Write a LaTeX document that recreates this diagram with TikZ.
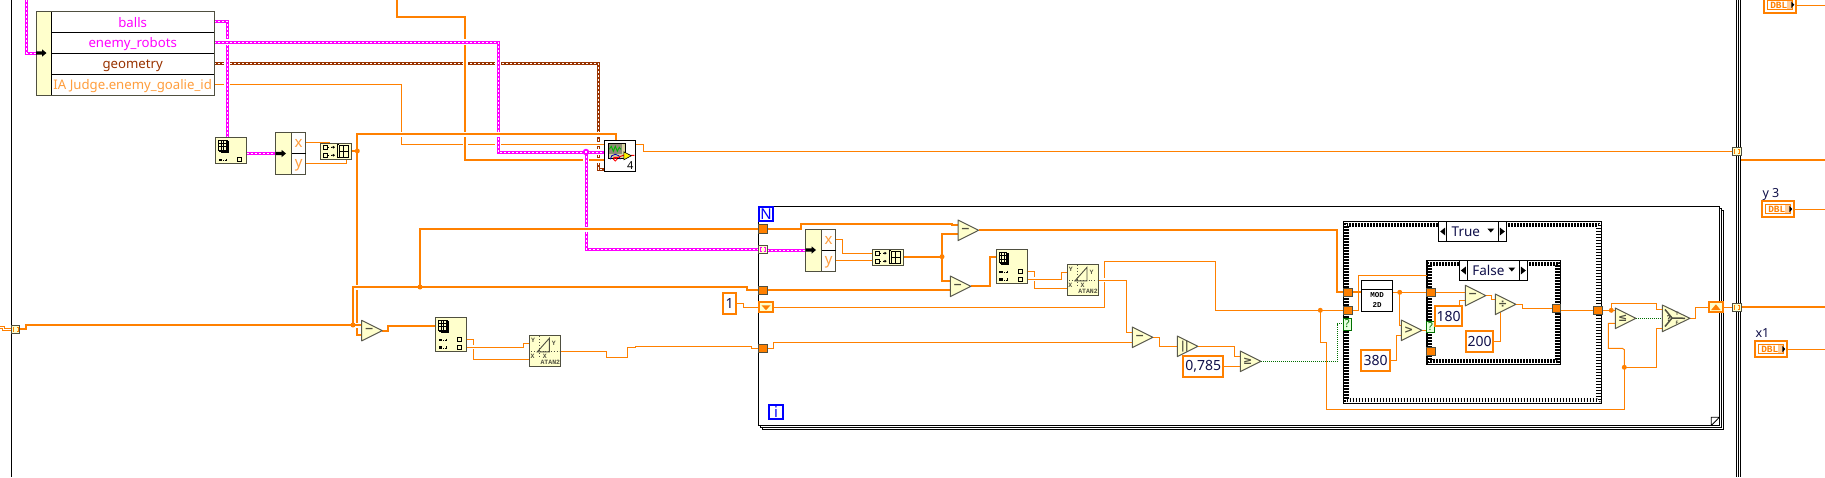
\documentclass[tikz,border=0pt]{standalone}
\usepackage{fontspec}
\setmainfont{Noto Sans}
\setmonofont{Liberation Mono}
\newfontfamily\symf{DejaVu Sans}
\pgfdeclarelayer{frames}
\pgfdeclarelayer{wires}
\pgfsetlayers{frames,wires,main}
\definecolor{org}{HTML}{FF8000}
\definecolor{lorg}{HTML}{FF9E3D}
\definecolor{mag}{HTML}{FF00FF}
\definecolor{brn}{HTML}{993300}
\definecolor{dk}{HTML}{4F4F40}
\definecolor{yel}{HTML}{FFFFCC}
\definecolor{navy}{HTML}{10104A}
\definecolor{grn}{HTML}{007000}
\tikzset{
  every node/.style={inner sep=0pt,outer sep=0pt},
  thinw/.style={draw=org,line width=1pt},
  thinh/.style={thinw,preaction={draw=white,line width=4pt}},
  thick2/.style={draw=org,line width=2pt},
  thickh/.style={thick2,preaction={draw=white,line width=5pt}},
  clus/.style={draw=mag,line width=3pt,postaction={draw=white,line width=1pt,dash pattern=on 2pt off 2pt}},
  clush/.style={clus,preaction={draw=white,line width=6.4pt}},
  clusb/.style={draw=brn,line width=3pt,postaction={draw=white,line width=1pt,dash pattern=on 2pt off 2pt}},
  boolw/.style={draw=grn,line width=1pt,dash pattern=on 1pt off 1pt},
  ybox/.style={draw=dk,fill=yel,line width=1pt},
  wbox/.style={draw=black,fill=white,line width=1pt},
  tun/.style={draw=dk,fill=org,line width=1pt},
  atun/.style={draw=dk,fill=yel,line width=1pt},
  qbox/.style={draw=grn,fill=yel!60!green!25,line width=1pt,text=grn,font=\fontsize{11}{11}\selectfont\bfseries},
  const/.style={draw=org,fill=white,line width=2pt,text=navy,font=\fontsize{14}{16}\selectfont},
  itbox/.style={draw=blue,fill=white,line width=2pt,text=blue,font=\fontsize{15}{15}\selectfont\bfseries},
  shreg/.style={draw=org,fill=yel,line width=2pt},
  trib/.style={draw=dk!80!gray,fill=yel,line width=1pt,line join=round},
  trisym/.style={text=dk,font=\symf\fontsize{11}{11}\selectfont\bfseries},
  lbl/.style={font=\fontsize{13.2}{15}\selectfont},
  xylbl/.style={font=\fontsize{15}{15}\selectfont,text=lorg},
  tiny/.style={font=\ttfamily\fontsize{6.5}{7}\selectfont\bfseries,text=dk},
  seltxt/.style={font=\fontsize{13.5}{15}\selectfont,text=navy},
  wlabel/.style={font=\fontsize{12.5}{14}\selectfont,text=navy,anchor=west},
  outerfr/.style={draw=black,line width=1.5pt},
  checker/.style={draw=black,line width=1.5pt,dash pattern=on 1.5pt off 1.5pt},
}
% \bx[style]{name}{x1}{y1}{x2}{y2}{text}
\newcommand{\bx}[7][]{\node[#1,rectangle,minimum width={(#5-#3)*1pt},minimum height={(#6-#4)*1pt}] (#2) at ({(#3+#5)/2},{(#4+#6)/2}) {#7};}
% \trinode{name}{x}{y}{symbol}
\newcommand{\trinode}[4]{%
  \draw[trib] (#2,#3) -- ++(20.5,10.3) -- ++(-20.5,10.3) -- cycle;
  \node[trisym] (#1) at (#2+7.5,#3+10.3) {#4};
  \coordinate (#1-l) at (#2,#3+10.3);
  \coordinate (#1-o) at (#2+20.5,#3+10.3);}
\newcommand{\ubarrow}[2]{\fill[black] (#1,#2-1.7) -- ++(6,0) -- ++(0,-2) -- ++(4.5,3.7) -- ++(-4.5,3.7) -- ++(0,-2) -- ++(-6,0) -- cycle;}
% grid icon
\newcommand{\gridicon}[3]{\begin{scope}[shift={(#1,#2)},line width=.8pt,black]
  \ifnum#3>0 \draw[fill=yel] (2.5,1.5) rectangle (9.5,12);\draw[fill=yel] (1.2,.7) rectangle (8.5,11);\fi
  \draw[fill=yel] (0,0) rectangle (7.5,10);
  \draw (2.5,0)--(2.5,10) (5,0)--(5,10) (0,3.3)--(7.5,3.3) (0,6.6)--(7.5,6.6);
\end{scope}}
\newcommand{\idxrow}[2]{\begin{scope}[shift={(#1,#2)}]
  \fill[black] (3.4,-1.2) rectangle (6.8,1.4);
  \fill[black] (8,.2) rectangle (9,1.2);
  \draw[black,line width=.8pt] (9.6,.7)--(12,.7) (11,-1)--(11,1);
  \draw[black,line width=1pt,fill=yel] (22,-2) rectangle (26,2);
\end{scope}}
\newcommand{\bldrow}[2]{\begin{scope}[shift={(#1,#2)}]
  \draw[black,line width=1pt,fill=yel] (3,-2) rectangle (7,2);
  \draw[black,line width=.8pt,dotted] (8,0)--(11,0);
  \draw[black,line width=.8pt] (11,0)--(14,0) (12.7,-1)--(14,0)--(12.7,1);
\end{scope}}
\newcommand{\bldicon}[2]{\begin{scope}[shift={(#1,#2)}]
  \bldrow{0}{3.9}\bldrow{0}{11.9}
  \draw[black,line width=.8pt] (18.5,1.5)--(17,1.5)--(17,14.5)--(18.5,14.5);
  \draw[black,line width=.9pt,fill=yel] (19,2) rectangle (28,14);
  \draw[black,line width=.9pt] (23.5,2)--(23.5,14) (19,8)--(28,8);
\end{scope}}
\newcommand{\atanicon}[2]{\begin{scope}[shift={(#1,#2)},dk]
  \draw[line width=.8pt,dotted] (10.3,1)--(10.3,21) (2,16.5)--(30,16.5);
  \draw[line width=.9pt] (8,16.5)--(20,3)--(20,16.5)--cycle;
  \node[tiny] at (3.7,5.5) {Y};
  \node[tiny] at (24.5,8.5) {Y};
  \node[tiny] at (3.2,21) {X};
  \node[tiny] at (15.5,21) {X};
  \node[tiny] at (21,27) {ATAN2};
\end{scope}}
\newcommand{\dblterm}[5]{%
  \bx[draw=org,fill=white,line width=2pt]{#1}{#2+1}{#3+1}{#4-1}{#5-1}{}
  \begin{scope}[shift={(#2,#3)}]
   \fill[org!40] (22.5,2.5) rectangle (28.5,12.9);
   \draw[org,line width=1pt] (3.5,3.5) rectangle (28,12);
   \node[font=\ttfamily\fontsize{9.5}{10}\selectfont\bfseries,text=org] at (14.5,7.9) {DBL};
   \fill[black] (27,4.5)--(30,7.8)--(27,11)--cycle;
  \end{scope}}
\newcommand{\bracket}[3]{\draw[#3,line width=1pt] (#1-1.2,#2-2.2)--(#1-2.5,#2-2.2)--(#1-2.5,#2+2.2)--(#1-1.2,#2+2.2) (#1+1.2,#2-2.2)--(#1+2.5,#2-2.2)--(#1+2.5,#2+2.2)--(#1+1.2,#2+2.2);}
\newcommand{\casefr}[5]{%
  \bx[outerfr]{#1}{#2}{#3}{#4}{#5}{}
  \draw[checker] (#2+1.6,#3+1.6) rectangle (#4-1.6,#5-1.6);
  \draw[checker,dash phase=1.5pt] (#2+3.1,#3+3.1) rectangle (#4-3.1,#5-3.1);
  \draw[checker] (#2+4.6,#3+4.6) rectangle (#4-4.6,#5-4.6);}
% \selector{name}{x1}{y1}{x2}{y2}{text}{div1}{div2}
\newcommand{\selector}[8]{%
  \bx[wbox]{#1}{#2}{#3}{#4}{#5}{}
  \draw[black,line width=1pt] (#7,#3)--(#7,#5) (#8,#3)--(#8,#5);
  \fill[black] (#7-1.5,{(#3+#5)/2-4})--(#7-1.5,{(#3+#5)/2+4})--(#7-6.5,{(#3+#5)/2})--cycle;
  \fill[black] (#8+1.5,{(#3+#5)/2-4})--(#8+1.5,{(#3+#5)/2+4})--(#8+6.5,{(#3+#5)/2})--cycle;
  \fill[black] (#8-11,{(#3+#5)/2-3})--(#8-4,{(#3+#5)/2-3})--(#8-7.5,{(#3+#5)/2+1})--cycle;
  \node[seltxt,anchor=west] at (#7+5,{(#3+#5)/2}) {#6};}
\begin{document}
\begin{tikzpicture}[x=1pt,y=-1pt]
\useasboundingbox (0,0) rectangle (1825,477);
\coordinate (topm) at (26.5,0);
\coordinate (topo) at (397,0);
\coordinate (edge1) at (1825,160);
\coordinate (edge2) at (1825,306.7);
\coordinate (edge3) at (1825,5.3);
\coordinate (edge4) at (1825,209.3);
\coordinate (edge5) at (1825,349.3);
\coordinate (lefts) at (0,327.3);

% ---------- frames ----------
\begin{pgfonlayer}{frames}
  \fill[white] (0,0) rectangle (1825,477);
  \draw[black,line width=1pt] (11.5,0)--(11.5,477);
  \draw[black,line width=1pt] (1736.3,0)--(1736.3,477) (1738.4,0)--(1738.4,477) (1740.5,0)--(1740.5,477);
  \draw[black,line width=1pt] (760.3,425.5)--(760.3,427.5)--(1721.8,427.5)--(1721.8,208.3)--(1719.5,208.3);
  \draw[black,line width=1pt] (762,427.5)--(762,429.5)--(1723.8,429.5)--(1723.8,210.3)--(1721.8,210.3);
  \bx[outerfr,line width=1pt,fill=white]{loop}{758.3}{206.3}{1719.3}{425.5}{}
  \draw[black,line width=.8pt] (1711.3,425.5)--(1711.3,417.3)--(1719.3,417.3) (1711.3,425.5)--(1719.3,417.3);
  \casefr{caseT}{1343.5}{221.7}{1601.7}{403.3}
  \casefr{caseF}{1426.9}{260.7}{1560.7}{364.3}
\end{pgfonlayer}

% ---------- nodes ----------
% top-left unbundle
\bx[ybox]{ub}{36}{11.5}{214}{95.5}{}
\fill[white] (51.5,12)rectangle(213.5,95);
\draw[black,line width=1pt] (51.5,11.5)--(51.5,95.5) (51.5,32.5)--(214,32.5) (51.5,53.5)--(214,53.5) (51.5,74.5)--(214,74.5);
\draw[dk,line width=1pt] (36,11.5) rectangle (214,95.5);
\ubarrow{36}{53}
\node[lbl,text=mag] (t1) at (132.7,22.8) {balls};
\node[lbl,text=mag] (t2) at (132.7,44.5) {enemy\_robots};
\node[lbl,text=brn] (t3) at (132.7,65.5) {geometry};
\node[lbl,text=lorg] (t4) at (132.7,86) {IA Judge.enemy\_goalie\_id};

\bx[ybox]{ai1}{215.3}{137.3}{246.7}{163.3}{}
\gridicon{218.5}{140}{1}
\idxrow{215.3}{159.7}
% x/y unbundle 1
\bx[ybox]{un1}{275.3}{132.3}{305.7}{174.3}{}
\fill[white] (291.7,132.8) rectangle (305.2,173.8);
\draw[dk,line width=1pt] (291.7,132.3)--(291.7,174.3)(275.3,132.3) rectangle (305.7,174.3);
\draw[black,line width=1pt] (291.7,153.3)--(305.7,153.3);
\ubarrow{275.5}{153.5}
\node[xylbl] at (298.7,143) {x};
\node[xylbl] at (298.7,165) {y};
\bx[ybox]{ba1}{320.3}{143.3}{351.7}{159.7}{}
\bldicon{320.3}{143.3}

% scope
\bx[wbox]{sc}{604.3}{140.3}{635.7}{171.7}{}
\begin{scope}[shift={(604.3,140.3)}]
  \fill[black!70!olive!60] (4,3) rectangle (21.4,18);
  \fill[black!20!olive!30!white] (4,14) rectangle (21.4,18);
  \fill[black!20!olive!30!white] (17.5,3) rectangle (21.4,18);
  \draw[black,line width=.8pt] (4,3) rectangle (21.4,18);
  \draw[green!70!black,line width=.9pt] (5,9)--(7,6)--(9,11)--(11,6)--(13,11)--(15,7)--(16.5,9);
  \draw[blue!70!black,line width=.8pt] (6,19) arc[start angle=180,end angle=360,radius=5];
  \draw[red,line width=.9pt] (9,17)--(14,17)--(19,15)--(30,15);
  \draw[red,line width=.8pt] (11,19) circle[radius=1.8];
  \draw[black,line width=.6pt,fill=yellow] (19.5,11.5)--(27,15.5)--(19.5,19.5)--cycle;
  \node[font=\fontsize{11}{11}\selectfont,text=black] at (26,25.3) {4};
\end{scope}

% left tunnel
\bx[atun]{tL}{11.5}{325.3}{19.7}{333.3}{}
\bracket{15.6}{329.3}{org}
% subtract D & array index 2 & atan 1
\trinode{tD}{361.7}{320.3}{−}
\bx[ybox]{ai2}{435.3}{317.3}{466.7}{351.3}{}
\gridicon{438.5}{320}{1}
\idxrow{435.3}{339.7}\idxrow{435.3}{347.3}
\bx[ybox]{at1}{529.3}{335.3}{560.7}{366.7}{}
\atanicon{529.3}{335.3}

% loop borders
\bx[itbox]{N}{759.3}{207.3}{772.7}{220.7}{N}
\bx[itbox]{Iter}{769.3}{405.3}{782.7}{418.7}{i}
\bx[tun]{t229}{758.7}{224.8}{767}{233.3}{}
\bx[atun]{t249}{758.7}{245}{767}{253.5}{}
\bracket{762.8}{249.2}{mag}
\bx[tun]{t290}{758.7}{286}{767}{294.3}{}
\bx[tun]{t348}{758.7}{344}{767}{352.6}{}
\bx[const]{c1}{723.3}{293.3}{736}{313.7}{1}
\bx[shreg]{srL}{759.3}{302.3}{772.7}{311.7}{}
\fill[org] (761.5,305.3)--(770.5,305.3)--(766,310.2)--cycle;
% x/y unbundle 2
\bx[ybox]{un2}{805}{229}{835.7}{271.3}{}
\fill[white] (821.7,229.5) rectangle (835.2,270.8);
\draw[dk,line width=1pt] (821.7,229)--(821.7,271.3)(805,229) rectangle (835.7,271.3);
\draw[black,line width=1pt] (821.7,250)--(835.7,250);
\ubarrow{805.5}{250}
\node[xylbl] at (828.7,240) {x};
\node[xylbl] at (828.7,262) {y};
\bx[ybox]{ba2}{872}{249.3}{903.7}{265.3}{}
\bldicon{872}{249.3}
\trinode{tA}{958}{220}{−}
\trinode{tB}{950.3}{276}{−}
\bx[ybox]{ai3}{996}{249.3}{1027.7}{283.7}{}
\gridicon{999.3}{252.3}{1}
\idxrow{996}{271.7}\idxrow{996}{279.3}
\bx[ybox]{at2}{1067}{264.3}{1098.7}{295.7}{}
\atanicon{1067}{264.3}
\trinode{tC}{1132.3}{327}{−}
\trinode{tAbs}{1177.3}{336}{||}
\bx[const]{c785}{1183.3}{356.3}{1223}{376.7}{0,785}
\trinode{tGe}{1240.3}{351}{≥}
% case T
\selector{selT}{1438.7}{221.7}{1506.7}{241.3}{True}{1446.7}{1498.3}
\bx[tun]{tT1}{1343.5}{288}{1352}{296.3}{}
\bx[tun]{tT2}{1343.5}{306}{1352}{314.3}{}
\bx[qbox]{qT}{1343.5}{318}{1351}{330}{?}
\bx[wbox]{mod}{1361.3}{280}{1392.7}{311}{}
\draw[black,line width=1pt] (1361.3,289)--(1392.7,289);
\node[font=\ttfamily\fontsize{7.5}{8}\selectfont\bfseries,text=black] (modt) at (1377,295) {MOD};
\node[font=\ttfamily\fontsize{7.5}{8}\selectfont\bfseries,text=black] (modt2) at (1377,305) {2D};
\trinode{tGt}{1401.3}{320}{>}
\bx[const]{c380}{1361.3}{350.3}{1389.7}{370.7}{380}
% case F
\selector{selF}{1459.3}{260.7}{1527.3}{280.3}{False}{1467.3}{1519.3}
\bx[tun]{tF1}{1426.9}{288}{1435}{296.3}{}
\bx[tun]{tF2}{1426.9}{347}{1435}{355.7}{}
\bx[tun]{tF3}{1552.3}{304.3}{1560.7}{312.7}{}
\bx[qbox]{qF}{1426.9}{321.3}{1434}{332.7}{?}
\trinode{tSub}{1465.3}{285.3}{−}
\trinode{tDiv}{1495.3}{294}{÷}
\bx[const]{c180}{1434.7}{306.3}{1462.3}{326.3}{180}
\bx[const]{c200}{1465.7}{331.3}{1493.3}{351.7}{200}
% right side
\bx[tun]{tT3}{1593.5}{306}{1602}{314.3}{}
\trinode{tLe}{1615.3}{308}{≤}
\draw[trib] (1662.3,305) -- (1690,318.3) -- (1662.3,331.7) -- cycle;
\node[trisym,font=\symf\fontsize{8}{8}\selectfont\bfseries] (sel) at (1669,318.3) {?};
\coordinate (sel-l) at (1662.3,318.3);
\coordinate (sel-o) at (1690,318.3);
\draw[dk,line width=1.5pt] (1665,309.5)--(1672,318)--(1665,326.5) (1672,318)--(1685,318.3);
\node[tiny,font=\ttfamily\fontsize{5}{5}\selectfont\bfseries] at (1677,314) {T};
\node[tiny,font=\ttfamily\fontsize{5}{5}\selectfont\bfseries] at (1677,323) {F};
\bx[shreg]{srR}{1709}{302}{1722.7}{311.7}{}
\fill[org] (1711,310.2)--(1720.7,310.2)--(1715.9,304.3)--cycle;
\bx[atun]{tR1}{1732.3}{147}{1741}{155.7}{}
\bracket{1736.6}{151.4}{org}
\bx[atun]{tR2}{1732.3}{303}{1741}{311.7}{}
\bracket{1736.6}{307.3}{org}
\dblterm{d1}{1764.3}{-3}{1795.7}{12.7}
\dblterm{d2}{1762.3}{201.3}{1793.7}{216.7}
\dblterm{d3}{1755.3}{341.3}{1786.7}{356.7}
\node[wlabel] (ly3) at (1762.5,194.5) {y 3};
\node[wlabel] (lx1) at (1755.5,333) {x1};
% junction dots
\foreach \n/\x/\y in {j1/357.3/151,j2/353/325,j3/420/287,j4/942/256.7,j5/1320.3/310.3,j6/1399.7/292.3,j7/1611.3/310.3,j8/1624.3/367.3}{
  \node[circle,fill=org,minimum size=5pt] (\n) at (\x,\y) {};
}
\node[circle,fill=mag,minimum size=6.5pt] (jm) at (586,152) {};
\fill[white] (585.4,151.4) rectangle (586.6,152.6);

% ---------- wires ----------
\begin{pgfonlayer}{wires}
  \draw[clus] (topm) -- (26.5,53) -- (ub.west |- 0,53);
  \draw[clusb] (ub.east |- 0,63.3) -- (598,63.3) -- (598,169) -- (sc.west |- 0,169);
  \draw[thinh] (ub.east |- 0,84.5) -- (401.3,84.5) -- (401.3,144.3) -- (sc.west |- 0,144.3);
  \draw[clush] (ub.east |- 0,21) -- (227,21) -- (ai1.north -| 227,0);
  \draw[thickh] (topo) -- (397,16.7) -- (465,16.7) -- (465,160) -- (sc.west |- 0,160);
  \draw[clush] (ub.east |- 0,42) -- (498,42) -- (498,152) -- (sc.west |- 0,152)
               (jm.center) -- (586,249) -- (t249.west |- 0,249);
  \draw[clus] (t249.east |- 0,250) -- (un2.west |- 0,250);
  \draw[clus] (ai1.east |- 0,153.5) -- (un1.west |- 0,153.5);
  \draw[thinw] (un1.east |- 0,142.3) -- (329,142.3) -- (329,143.3);
  \draw[thinw] (un1.east |- 0,163.7) -- (346,163.7) -- (346,159.7);
  \draw[thickh] (ba1.east |- 0,151) -- (j1.center)
     (sc.north -| 616,0) -- (616,134) -- (357.3,134) -- (357.3,335) -- (tD-l |- 0,335);
  \draw[thickh] (tL.east |- 0,329) -- (26,329) -- (26,325) -- (j2.center) -- (tD-l |- 0,325)
     (j2.center) -- (353,287) -- (746.7,287) -- (746.7,290) -- (t290.west |- 0,290)
     (j3.center) -- (420,229) -- (t229.west |- 0,229);
  \draw[draw=org,line width=3pt] (lefts) -- (3.7,327.3) -- (3.7,329) -- (tL.west |- 0,329);
  \draw[draw=white,line width=1pt] (lefts) -- (3.7,327.3) -- (3.7,329) -- (tL.west |- 0,329);
  \draw[thick2] (tD-o) -- (388,330.6) -- (388,326) -- (ai2.west |- 0,326);
  \draw[thinw] (ai2.east |- 0,339.3) -- (473.3,339.3) -- (473.3,359.3) -- (at1.west |- 0,359.3);
  \draw[thinh] (ai2.east |- 0,347.3) -- (523.3,347.3) -- (523.3,343.3) -- (at1.west |- 0,343.3);
  \draw[thinw] (at1.east |- 0,351) -- (606.7,351) -- (606.7,357.3) -- (627.3,357.3) -- (627.3,347.3) -- (635.3,347.3) -- (635.3,346.3) -- (751.7,346.3) -- (751.7,348.3) -- (t348.west |- 0,348.3);
  \draw[thinw] (c1.east |- 0,303.3) -- (743.7,303.3) -- (743.7,307.3) -- (srL.west |- 0,307.3);
  \draw[thick2] (t229.east |- 0,229) -- (801,229) -- (801,223.8) -- (951.7,223.8) -- (951.7,225) -- (tA-l |- 0,225);
  \draw[thinw] (un2.east |- 0,239) -- (842,239) -- (842,253) -- (ba2.west |- 0,253);
  \draw[thinw] (un2.east |- 0,260) -- (ba2.west |- 0,260);
  \draw[thick2] (ba2.east |- 0,256.7) -- (j4.center) -- (942,234.3) -- (tA-l |- 0,234.3)
                (j4.center) -- (942,280.7) -- (tB-l |- 0,280.7);
  \draw[thick2] (t290.east |- 0,289.7) -- (tB-l |- 0,289.7);
  \draw[thick2] (tB-o) -- (990,286.3) -- (990,257.3) -- (ai3.west |- 0,257.3);
  \draw[thick2] (tA-o) -- (1336.7,230.3) -- (1336.7,292) -- (tT1.west |- 0,292);
  \draw[thick2] (tT1.east |- 0,292) -- (mod.west |- 0,292);
  \draw[thinw] (ai3.east |- 0,271.3) -- (1034.7,271.3) -- (1034.7,288.3) -- (at2.west |- 0,288.3);
  \draw[thinh] (ai3.east |- 0,279.3) -- (1061.5,279.3) -- (1061.5,272.3) -- (at2.west |- 0,272.3);
  \draw[thinw] (srL.east |- 0,307.3) -- (1104.3,307.3) -- (1104.3,261.3) -- (1215,261.3) -- (1215,310.3) -- (tT2.west |- 0,310.3);
  \draw[thinh] (at2.east |- 0,280) -- (1126.5,280) -- (1126.5,332.5) -- (tC-l |- 0,332.5);
  \draw[thinw] (t348.east |- 0,348) -- (773.7,348) -- (773.7,342.3) -- (tC-l |- 0,342.3);
  \draw[thinw] (tC-o) -- (1159.3,337.3) -- (1159.3,346.3) -- (tAbs-l);
  \draw[thinw] (tAbs-o) -- (1234.7,346.3) -- (1234.7,356.7) -- (tGe-l |- 0,356.7);
  \draw[thinw] (c785.east |- 0,366.3) -- (tGe-l |- 0,366.3);
  \draw[thinw] (j5.center) -- (1320.3,342.3) -- (1326.7,342.3) -- (1326.7,409.3) -- (1624.3,409.3) -- (j8.center);
  \draw[thinw] (j8.center) -- (1624.3,349.7) -- (1622.3,348.3) -- (1608.3,348.3) -- (1608.3,323.3) -- (tLe-l |- 0,323.3);
  \draw[thinw] (j8.center) -- (1656.7,367.3) -- (1656.7,328.3) -- (sel-l |- 0,328.3);
  \draw[boolw] (tGe-o) -- (1337.3,361.3) -- (1337.3,323.7) -- (qT.west |- 0,323.7);
  \draw[thinw] (tT2.east |- 0,310.3) -- (1358.3,310.3) -- (1358.3,275.3) -- (caseF.west |- 0,275.3);
  \draw[thinw] (mod.east |- 0,292.3) -- (tF1.west |- 0,292.3);
  \draw[thinw] (j6.center) -- (1399.7,325) -- (tGt-l |- 0,325);
  \draw[thinw] (c380.east |- 0,360.3) -- (1396.7,360.3) -- (1396.7,335.7) -- (tGt-l |- 0,335.7);
  \draw[thinw] (tGt-o) -- (qF.west |- 0,330.3);
  \draw[thinw] (tF1.east |- 0,292.3) -- (tSub-l |- 0,292.3);
  \draw[thinw] (c180.north -| 1459.3,0) -- (1459.3,300) -- (tSub-l |- 0,300);
  \draw[thinw] (tSub-o) -- (1491.3,295.6) -- (1491.3,299.3) -- (tDiv-l |- 0,299.3);
  \draw[thinw] (c200.east |- 0,341.3) -- (1500.7,341.3) -- (1500.7,310);
  \draw[thinw] (tDiv-o) -- (1522.3,304.3) -- (1522.3,308.3) -- (tF3.west |- 0,308.3);
  \draw[thinw] (tF3.east |- 0,310.3) -- (tT3.west |- 0,310.3);
  \draw[thinw] (tT3.east |- 0,310.3) -- (tLe-l |- 0,310.3);
  \draw[thinw] (j7.center) -- (1611.3,303.3) -- (1656.7,303.3) -- (1656.7,309.3) -- (sel-l |- 0,309.3);
  \draw[boolw] (tLe-o) -- (sel-l);
  \draw[thinw] (sel-o) -- (1695.3,318.3) -- (1695.3,307.3) -- (srR.west |- 0,307.3);
  \draw[thinw] (srR.east |- 0,307.3) -- (tR2.west |- 0,307.3);
  \draw[thinw] (sc.east |- 0,144.3) -- (643.3,144.3) -- (643.3,151.3) -- (tR1.west |- 0,151.3);
  \draw[thick2] (tR1.east |- 0,160) -- (edge1);
  \draw[thick2] (tR2.east |- 0,306.7) -- (edge2);
  \draw[thinw] (d1.east |- 0,5.3) -- (edge3);
  \draw[thinw] (d2.east |- 0,209.3) -- (edge4);
  \draw[thinw] (d3.east |- 0,349.3) -- (edge5);
\end{pgfonlayer}
\end{tikzpicture}
\end{document}
